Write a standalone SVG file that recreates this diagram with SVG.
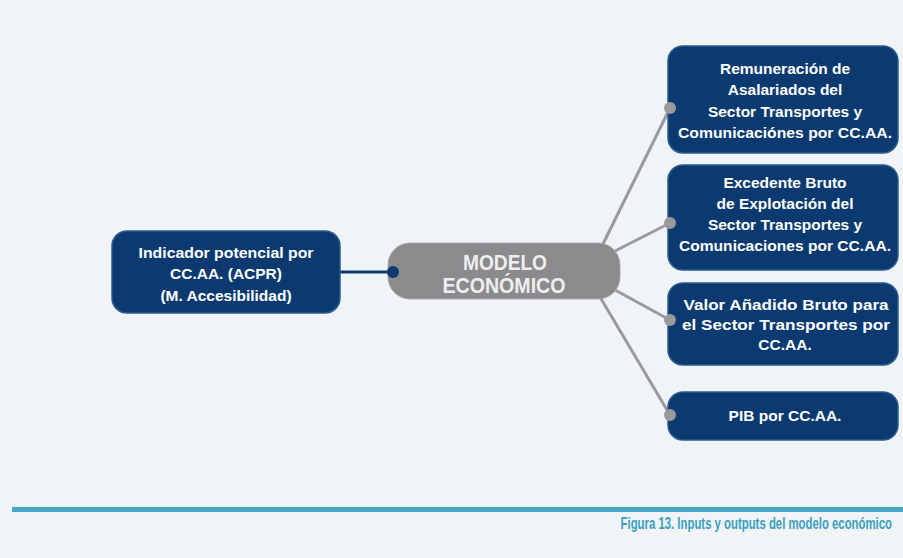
<svg xmlns="http://www.w3.org/2000/svg" width="903" height="558" viewBox="0 0 903 558">
<style>
.box{fill:#0a3a6f;stroke:#2a5a8c;stroke-width:1.5}
.t{font-family:"Liberation Sans",Arial,sans-serif;font-weight:bold;font-size:15.5px;fill:#ffffff;text-anchor:middle}
.c{font-family:"Liberation Sans",Arial,sans-serif;font-weight:bold;font-size:22px;fill:#eeeeee;text-anchor:middle}
.ln{stroke:#9a9a9c;stroke-width:3;fill:none}
.gd{fill:#9a9a9c}
</style>
<rect width="903" height="558" fill="#f1f4f6"/>
<g id="connectors">
<line x1="340" y1="272" x2="393" y2="272" stroke="#0a3a6f" stroke-width="3"/>
<line class="ln" x1="603" y1="244" x2="670" y2="108"/>
<line class="ln" x1="615" y1="251" x2="670" y2="223"/>
<line class="ln" x1="615" y1="290" x2="670" y2="320"/>
<line class="ln" x1="600" y1="297" x2="670" y2="415"/>
</g>
<g id="left">
<rect class="box" x="112" y="231" width="228" height="82" rx="15"/>
<text class="t" x="226" y="258" textLength="175" lengthAdjust="spacingAndGlyphs">Indicador potencial por</text>
<text class="t" x="226" y="279">CC.AA. (ACPR)</text>
<text class="t" x="226" y="301">(M. Accesibilidad)</text>
</g>
<g id="center">
<rect x="388" y="243" width="232" height="56" rx="22" fill="#8b8b8d" stroke="#a8a8aa" stroke-width="1"/>
<text class="c" x="505" y="270" textLength="84" lengthAdjust="spacingAndGlyphs">MODELO</text>
<text class="c" x="504" y="293" textLength="123" lengthAdjust="spacingAndGlyphs">ECONÓMICO</text>
<circle cx="393" cy="272" r="6" fill="#0a3a6f"/>
</g>
<g id="n1">
<rect class="box" x="668" y="46" width="230" height="107" rx="15"/>
<text class="t" x="785" y="74">Remuneración de</text>
<text class="t" x="785" y="95">Asalariados del</text>
<text class="t" x="785" y="117">Sector Transportes y</text>
<text class="t" x="785" y="138" textLength="214" lengthAdjust="spacingAndGlyphs">Comunicaciónes por CC.AA.</text>
<circle class="gd" cx="670" cy="108" r="6"/>
</g>
<g id="n2">
<rect class="box" x="668" y="165" width="230" height="105" rx="15"/>
<text class="t" x="785" y="188">Excedente Bruto</text>
<text class="t" x="785" y="209">de Explotación del</text>
<text class="t" x="785" y="230">Sector Transportes y</text>
<text class="t" x="785" y="251" textLength="212" lengthAdjust="spacingAndGlyphs">Comunicaciones por CC.AA.</text>
<circle class="gd" cx="670" cy="223" r="6"/>
</g>
<g id="n3">
<rect class="box" x="668" y="283" width="230" height="82" rx="15"/>
<text class="t" x="786" y="310" textLength="205" lengthAdjust="spacingAndGlyphs">Valor Añadido Bruto para</text>
<text class="t" x="786" y="330" textLength="208" lengthAdjust="spacingAndGlyphs">el Sector Transportes por</text>
<text class="t" x="785" y="350">CC.AA.</text>
<circle class="gd" cx="670" cy="320" r="6"/>
</g>
<g id="n4">
<rect class="box" x="668" y="392" width="230" height="48" rx="15"/>
<text class="t" x="785" y="421">PIB por CC.AA.</text>
<circle class="gd" cx="670" cy="415" r="6"/>
</g>
<rect x="12" y="507" width="891" height="5" fill="#4aa6c6"/>
<text transform="translate(892,529) scale(0.72,1)" x="0" y="0" font-family="'Liberation Sans',Arial,sans-serif" font-weight="bold" font-size="15.8" fill="#3a9fbd" text-anchor="end">Figura 13. Inputs y outputs del modelo económico</text>
</svg>
